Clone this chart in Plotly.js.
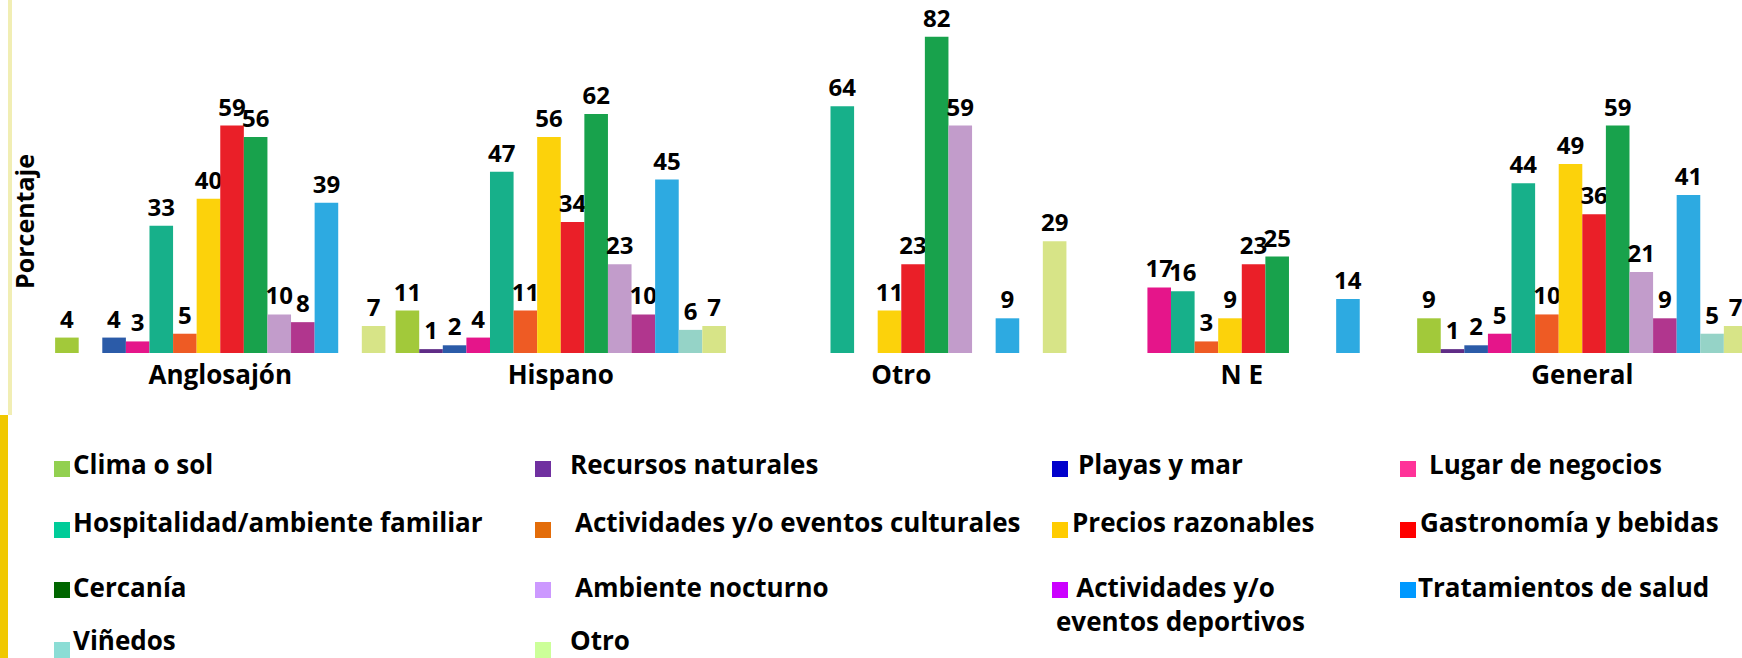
<!DOCTYPE html>
<html>
<head>
<meta charset="utf-8">
<script src="https://cdn.plot.ly/plotly-3.0.1.min.js"></script>
<style>html,body{margin:0;padding:0;background:#fff;}#chart{width:1742px;height:658px;}</style>
</head>
<body>
<div id="chart"></div>
<script>
// ---- data ----
const categories = ['Anglosajón', 'Hispano', 'Otro', 'N E', 'General'];
const seriesNames = [
  'Clima o sol', 'Recursos naturales', 'Playas y mar', 'Lugar de negocios',
  'Hospitalidad/ambiente familiar', 'Actividades y/o eventos culturales', 'Precios razonables', 'Gastronomía y bebidas',
  'Cercanía', 'Ambiente nocturno', 'Actividades y/o eventos deportivos', 'Tratamientos de salud',
  'Viñedos', 'Otro'
];
const clima        = [4, 11, null, null, 9];
const recursos     = [null, 1, null, null, 1];
const playas       = [4, 2, null, null, 2];
const lugar        = [3, 4, null, 17, 5];
const hospitalidad = [33, 47, 64, 16, 44];
const culturales   = [5, 11, null, 3, 10];
const precios      = [40, 56, 11, 9, 49];
const gastronomia  = [59, 34, 23, 23, 36];
const cercania     = [56, 62, 82, 25, 59];
const nocturno     = [10, 23, 59, null, 21];
const deportivos   = [8, 10, null, null, 9];
const salud        = [39, 45, 9, 14, 41];
const vinedos      = [null, 6, null, null, 5];
const otro         = [7, 7, 29, null, 7];
const seriesValues = [clima, recursos, playas, lugar, hospitalidad, culturales, precios,
  gastronomia, cercania, nocturno, deportivos, salud, vinedos, otro];

// ---- styles ----
const barColors = ['#A2C93A', '#5F2C86', '#2B5BA8', '#E5158A', '#17B08A', '#EE5B24', '#FCD20B',
  '#EA1F28', '#18A24C', '#C29CCB', '#B1368E', '#2DAAE1', '#95D3C7', '#D7E487'];
const legendColors = ['#92D050', '#7030A0', '#0000CC', '#FF3399', '#00CC99', '#E36C09', '#FFCC00',
  '#FF0000', '#006600', '#CC99FF', '#CC00FF', '#0099FF', '#8BDDD5', '#CCFF99'];
const legendLabels = seriesNames.map(n => n === 'Actividades y/o eventos deportivos'
  ? '\u00a0\u00a0\u00a0Actividades y/o<br>eventos deportivos' : n);

const FONT = '"Open Sans", "Liberation Sans", sans-serif';
const W = 1742, H = 658;
const M = {l: 50, r: 0, t: 6, b: 305};
const PW = W - M.l - M.r, PH = H - M.t - M.b;
const px = x => (x - M.l) / PW;
const py = y => (H - M.b - y) / PH;

const traces = seriesValues.map((vals, i) => ({
  type: 'bar',
  name: seriesNames[i],
  x: categories,
  y: vals,
  text: vals.map(v => v == null ? '' : String(v)),
  textposition: 'outside',
  constraintext: 'none',
  cliponaxis: false,
  textfont: {family: FONT, size: 24, color: '#000', weight: 700},
  marker: {color: barColors[i], line: {width: 0}},
  showlegend: false,
  hoverinfo: 'x+y+name'
}));

// legend layout (custom grid 4 columns)
const colMarkerX = [54, 535, 1052, 1400];
const itemTextX = [72, 569, 1077, 1428, 72, 574, 1071, 1419, 72, 574, 1055, 1417, 72, 569];
const rowCapY = [464, 522, 587, 640];
const rowSquareTop = [461, 522, 582, 642];
const annotations = [];
const shapes = [];
seriesNames.forEach((n, i) => {
  const c = i % 4, r = Math.floor(i / 4);
  const two = legendLabels[i].includes('<br>');
  annotations.push({
    xref: 'paper', yref: 'paper',
    x: px(itemTextX[i]), y: py(two ? rowCapY[r] + 17 : rowCapY[r]),
    xanchor: 'left', yanchor: 'middle', align: 'left', borderpad: 0,
    text: legendLabels[i], showarrow: false,
    font: {family: FONT, size: 26, color: '#000', weight: 700}
  });
  shapes.push({
    type: 'rect', xref: 'paper', yref: 'paper',
    x0: px(colMarkerX[c]), x1: px(colMarkerX[c] + 16),
    y0: py(rowSquareTop[r] + 16), y1: py(rowSquareTop[r]),
    fillcolor: legendColors[i], line: {width: 0}
  });
});
// y axis title
annotations.push({
  xref: 'paper', yref: 'paper', x: px(24), y: py(222),
  xanchor: 'center', yanchor: 'middle', textangle: -90,
  text: 'Porcentaje', showarrow: false,
  font: {family: FONT, size: 25, color: '#000', weight: 700}
});
// slide border decorations
shapes.push({type: 'rect', xref: 'paper', yref: 'paper', x0: px(8), x1: px(12), y0: py(415), y1: py(0),
  fillcolor: '#F1EEB4', line: {width: 0}, layer: 'below'});
shapes.push({type: 'rect', xref: 'paper', yref: 'paper', x0: px(0), x1: px(8), y0: py(H), y1: py(415),
  fillcolor: '#F0C800', line: {width: 0}, layer: 'below'});

const layout = {
  width: W, height: H,
  margin: M,
  paper_bgcolor: '#fff', plot_bgcolor: '#fff',
  barmode: 'group', bargap: 0.03, bargroupgap: 0,
  showlegend: false,
  xaxis: {
    type: 'category', range: [-0.5, 4.469],
    showgrid: false, zeroline: false, showline: false, ticks: '',
    ticklabelstandoff: 4,
    tickfont: {family: FONT, size: 26, color: '#000', weight: 700},
    fixedrange: true
  },
  yaxis: {
    range: [0, 90], showgrid: false, zeroline: false, showline: false,
    showticklabels: false, ticks: '', fixedrange: true
  },
  annotations: annotations,
  shapes: shapes
};

Plotly.newPlot('chart', traces, layout, {displayModeBar: false, staticPlot: true});
</script>
</body>
</html>
